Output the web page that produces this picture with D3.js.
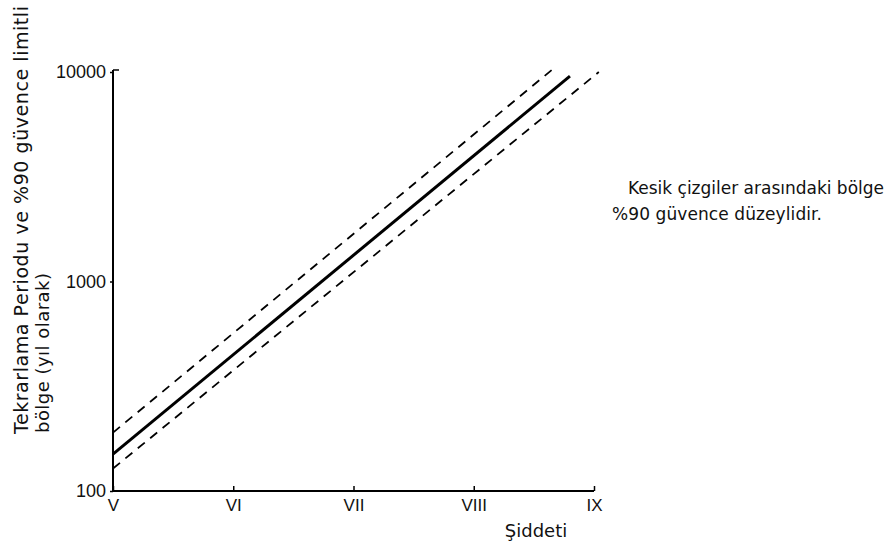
<!DOCTYPE html>
<html>
<head>
<meta charset="utf-8">
<script src="https://cdn.jsdelivr.net/npm/d3@7"></script>
<style>
  body { margin: 0; background: #fff; }
  svg { font-family: "DejaVu Sans", sans-serif; }
</style>
</head>
<body>
<svg id="chart" width="890" height="548"></svg>
<script>
const intensityLabels = ["V", "VI", "VII", "VIII", "IX"];
const intensityValues = [5, 6, 7, 8, 9];
const yTicks = [100, 1000, 10000];

// recurrence period (years) vs intensity
const meanLine = [[5, 150], [8.8, 9550]];
const upperLimit = [[5, 190], [8.66, 10350]];
const lowerLimit = [[5, 128], [9.04, 10000]];

const svg = d3.select("#chart");
const x = d3.scaleLinear().domain([5, 9]).range([113, 594]);
const y = d3.scaleLog().domain([100, 10000]).range([491, 72]);

const line = d3.line().x(d => x(d[0])).y(d => y(d[1]));

// axes
const xAxis = svg.append("g")
    .attr("transform", `translate(0,${y(100)})`)
    .call(d3.axisBottom(x).tickValues(intensityValues)
        .tickFormat((d, i) => intensityLabels[i]).tickSize(-5).tickPadding(8));
xAxis.select(".domain").attr("stroke-width", 2).attr("d", `M${x(5)},0H${x(9)}`);
xAxis.selectAll(".tick line").attr("stroke-width", 1.5);
xAxis.selectAll(".tick text").attr("font-size", 17).attr("fill", "#111");

const yAxis = svg.append("g")
    .attr("transform", `translate(${x(5)},0)`)
    .call(d3.axisLeft(y).tickValues(yTicks).tickFormat(d3.format("d")).tickSize(3).tickPadding(4));
yAxis.select(".domain").attr("stroke-width", 2).attr("d", `M0,${y(10000) - 2}V${y(100)}`);
yAxis.selectAll(".tick text").attr("font-size", 18).attr("fill", "#111");
yAxis.selectAll(".tick line").attr("stroke-width", 1.5);
// small hook at top of axis
svg.append("line")
    .attr("x1", x(5)).attr("x2", x(5) + 6)
    .attr("y1", y(10000) - 2).attr("y2", y(10000) - 2)
    .attr("stroke", "#000").attr("stroke-width", 1.5);

// lines
svg.append("path").datum(meanLine).attr("d", line)
    .attr("fill", "none").attr("stroke", "#000").attr("stroke-width", 3);
[upperLimit, lowerLimit].forEach(s => {
    svg.append("path").datum(s).attr("d", line)
        .attr("fill", "none").attr("stroke", "#000").attr("stroke-width", 1.8)
        .attr("stroke-dasharray", "9,7");
});

// axis titles
svg.append("text").attr("x", 536).attr("y", 537).attr("text-anchor", "middle")
    .attr("font-size", 18).attr("fill", "#111").text("Şiddeti");

svg.append("text").attr("transform", "translate(28,434) rotate(-90)")
    .attr("font-size", 19).attr("fill", "#111")
    .attr("textLength", 428).attr("lengthAdjust", "spacing")
    .text("Tekrarlama  Periodu  ve  %90  güvence  limitli");
svg.append("text").attr("transform", "translate(49,433) rotate(-90)")
    .attr("font-size", 18).attr("fill", "#111")
    .attr("textLength", 160).attr("lengthAdjust", "spacing")
    .text("bölge (yıl olarak)");

// note
svg.append("text").attr("x", 628).attr("y", 194)
    .attr("font-size", 17).attr("fill", "#111")
    .attr("textLength", 256).attr("lengthAdjust", "spacing")
    .text("Kesik çizgiler arasındaki bölge");
svg.append("text").attr("x", 612).attr("y", 220)
    .attr("font-size", 17).attr("fill", "#111")
    .attr("textLength", 210).attr("lengthAdjust", "spacing")
    .text("%90 güvence düzeylidir.");
</script>
</body>
</html>
